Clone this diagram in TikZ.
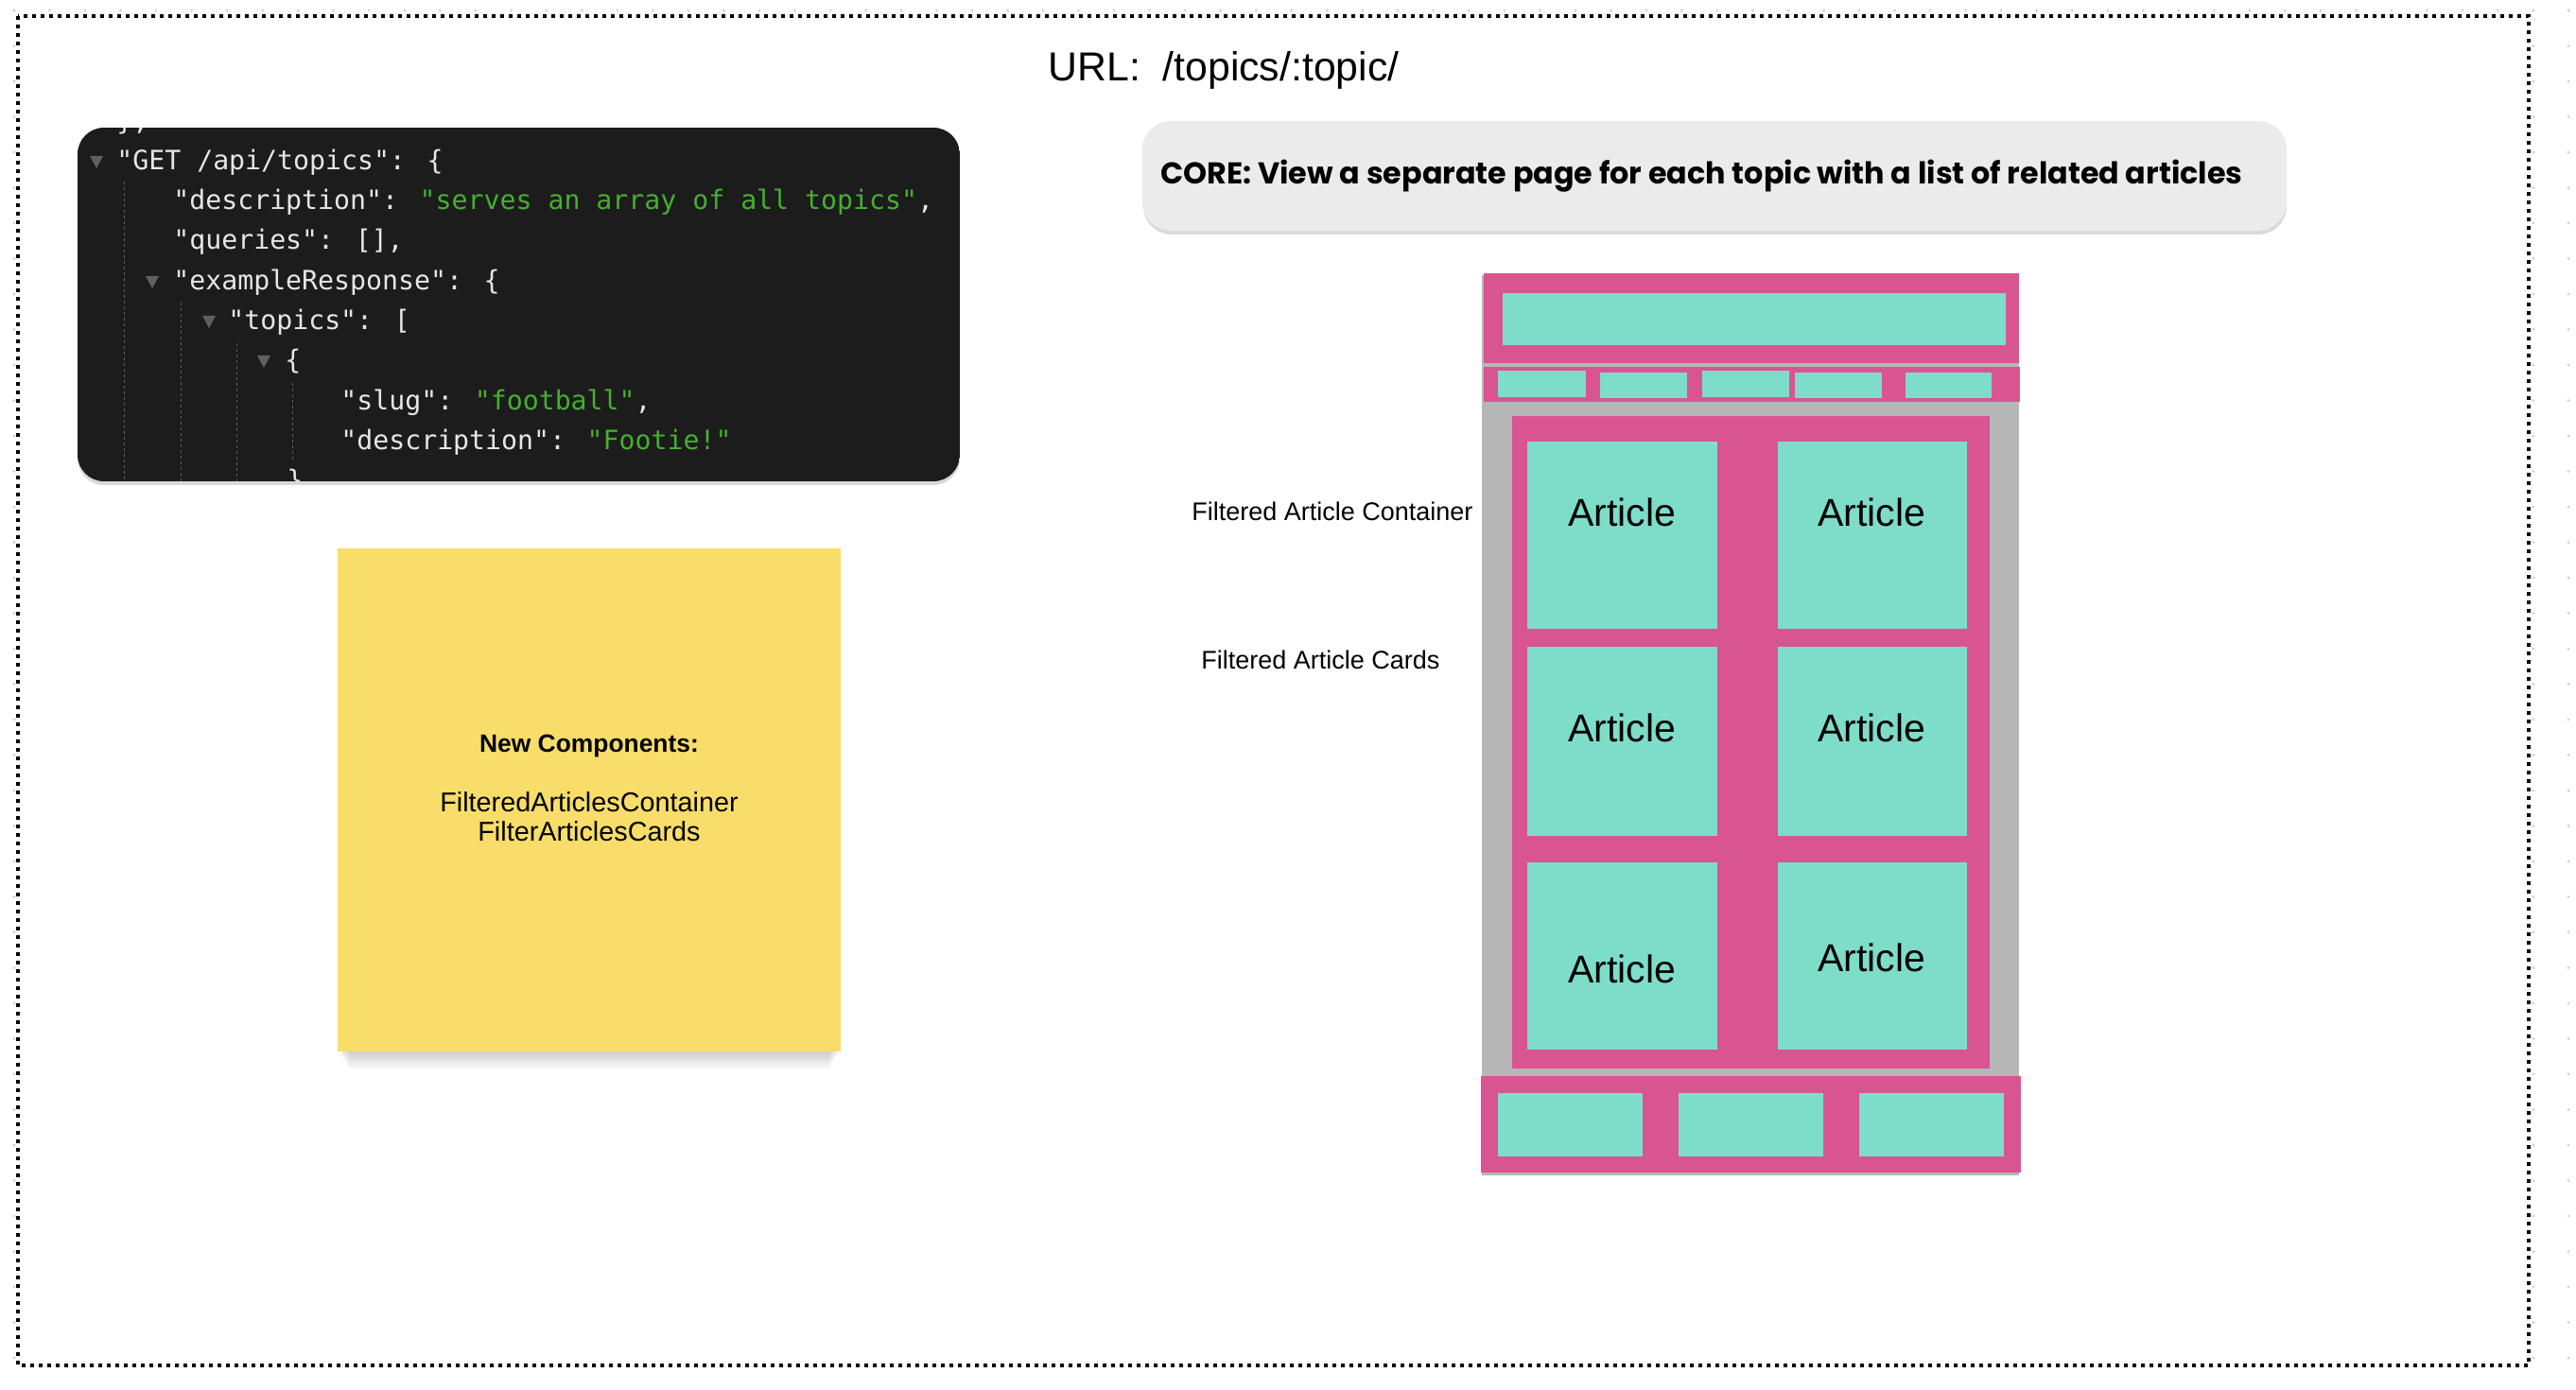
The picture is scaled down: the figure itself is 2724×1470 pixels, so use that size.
\documentclass[tikz,border=0pt]{standalone}
\usepackage{fontspec}
\setmainfont{Liberation Sans}
\newfontfamily\codefont{DejaVu Sans Mono}
\newfontfamily\corefont{Poppins}

\definecolor{wirepink}{RGB}{217,85,146}
\definecolor{wireteal}{RGB}{126,221,201}
\definecolor{wiregrey}{RGB}{183,183,183}
\definecolor{stickyyellow}{RGB}{248,221,106}
\definecolor{corefill}{RGB}{235,235,235}
\definecolor{codebg}{RGB}{28,28,28}
\definecolor{codekey}{RGB}{230,230,230}
\definecolor{codestr}{RGB}{70,175,45}
\definecolor{codegrey}{RGB}{95,95,95}
\definecolor{griddot}{RGB}{210,210,210}

\newcommand{\jsonstr}[1]{\textcolor{codestr}{#1}}

\begin{document}
\begin{tikzpicture}[x=0.5pt,y=-0.5pt,
  pinkfill/.style={fill=wirepink},
  tealfill/.style={fill=wireteal},
  codetxt/.style={anchor=base west, inner sep=0pt, text=codekey,
    font=\codefont\fontsize{14.1}{16}\selectfont},
  codeguide/.style={draw=codegrey, line width=0.5pt, dash pattern=on 1.5pt off 1.5pt},
  sidelabel/.style={anchor=base west, inner sep=0pt, font=\fontsize{13.5}{16}\selectfont},
  articletxt/.style={inner sep=0pt, font=\fontsize{20.5}{24}\selectfont},
  notetxt/.style={anchor=base, inner sep=0pt, font=\fontsize{14.4}{17}\selectfont}]
\useasboundingbox (0,0) rectangle (2724,1470);

% Canvas dots outside the frame
\foreach \i in {0,...,72} \fill[griddot] (15+37.52*\i,11) circle (1.6);
\foreach \j in {0,...,38} {
    \fill[griddot] (15,11+37.5*\j) circle (1.6);
    \fill[griddot] (2679,11+37.5*\j) circle (1.6);
    \fill[griddot] (2716,11+37.5*\j) circle (1.6);
}

% Frame
\draw[fill=white, line width=2pt, dash pattern=on 2pt off 2.5pt] (19,17) rectangle (2674,1444);

% Title
\node[anchor=base west, inner sep=0pt, font=\fontsize{21.4}{25}\selectfont] (url) at (1108,86) {URL:\ \ /topics/:topic/};

% Code box
\fill[black, opacity=0.15, rounded corners=14] (82,139) rectangle (1015,513);
\begin{scope}
\clip[rounded corners=14] (82,135) rectangle (1015,509);
\fill[codebg] (82,135) rectangle (1015,509);
\node[codetxt] (code0) at (123,138) {\},};
\node[codetxt] (code1) at (123,180) {"GET /api/topics": \{};
\node[codetxt] (code2) at (183,222) {"description": \jsonstr{"serves an array of all topics"},};
\node[codetxt] (code3) at (183,264) {"queries": [],};
\node[codetxt] (code4) at (183,307) {"exampleResponse": \{};
\node[codetxt] (code5) at (241,349) {"topics": [};
\node[codetxt] (code6) at (301,391) {\{};
\node[codetxt] (code7) at (360,434) {"slug": \jsonstr{"football"},};
\node[codetxt] (code8) at (360,476) {"description": \jsonstr{"Footie!"}};
\node[codetxt] (code9) at (303,518) {\}};
% fold arrows
\foreach \tx/\ty in {102/180, 161/307, 221/349, 279/391}
    \fill[codegrey] (\tx-7,\ty-15) -- (\tx+7,\ty-15) -- (\tx,\ty-2) -- cycle;
% indent guides
\draw[codeguide] (131,192) -- (131,509);
\draw[codeguide] (191,320) -- (191,509);
\draw[codeguide] (250,363) -- (250,509);
\draw[codeguide] (309,405) -- (309,488);
\end{scope}

% Sticky note
\foreach \k in {1,...,6}
    \fill[black, opacity=0.03] (357+2*\k,590) rectangle (889-2*\k,1112+3*\k);
\fill[stickyyellow] (357,580) rectangle (889,1112);
\node[notetxt, font=\fontsize{13.2}{17}\selectfont\bfseries] (newcomp) at (623,795) {New Components:};
\node[notetxt] (comp1) at (623,858) {FilteredArticlesContainer};
\node[notetxt] (comp2) at (623,889) {FilterArticlesCards};

% Core requirement
\fill[black, opacity=0.15, rounded corners=15] (1209,132) rectangle (2418,248);
\fill[corefill, rounded corners=15] (1208,128) rectangle (2418,244);
\node[anchor=base west, inner sep=0pt, font=\corefont\fontsize{15.9}{19}\selectfont\bfseries] (core) at (1227,195)
    {CORE: View a separate page for each topic with a list of related articles};

% Wireframe
\fill[wiregrey] (1567,291) rectangle (2135,1243);
% header
\fill[pinkfill] (1569,289) rectangle (2135,384);
\fill[tealfill] (1589,310) rectangle (2121,365);
% nav
\fill[pinkfill] (1569,388) rectangle (2136,425);
\foreach \xa/\xb/\ya/\yb in {1584/1677/392/420, 1692/1784/394/421, 1800/1892/392/420,
                             1898/1990/394/421, 2015/2106/394/421}
    \fill[tealfill] (\xa,\ya) rectangle (\xb,\yb);
% article container and cards
\fill[pinkfill] (1599,440) rectangle (2104,1130);
\foreach \ya/\yb in {467/665, 684/884, 912/1110} {
    \fill[tealfill] (1615,\ya) rectangle (1816,\yb);
    \fill[tealfill] (1880,\ya) rectangle (2080,\yb);
}
\node[articletxt] (art11) at (1715,542) {Article};
\node[articletxt] (art12) at (1979,542) {Article};
\node[articletxt] (art21) at (1715,770) {Article};
\node[articletxt] (art22) at (1979,770) {Article};
\node[articletxt] (art31) at (1715,1025) {Article};
\node[articletxt] (art32) at (1979,1013) {Article};
% footer
\fill[pinkfill] (1566,1138) rectangle (2137,1240);
\foreach \xa/\xb in {1584/1737, 1775/1928, 1966/2119}
    \fill[tealfill] (\xa,1156) rectangle (\xb,1223);

% Labels
\node[sidelabel] (contlabel) at (1260,551) {Filtered Article Container};
\node[sidelabel] (cardlabel) at (1270,707) {Filtered Article Cards};
\end{tikzpicture}
\end{document}
